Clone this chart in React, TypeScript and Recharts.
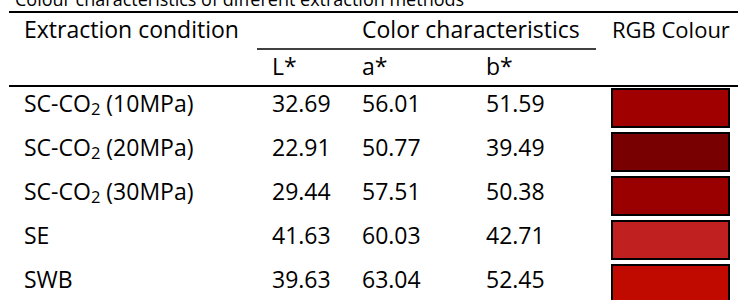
import { ComposedChart, Bar, Cell, XAxis, YAxis, Customized } from "recharts";

// table rows
const conditions = ["SC-CO2 (10MPa)", "SC-CO2 (20MPa)", "SC-CO2 (30MPa)", "SE", "SWB"];
const lValues = [32.69, 22.91, 29.44, 41.63, 39.63];
const aValues = [56.01, 50.77, 57.51, 60.03, 63.04];
const bValues = [51.59, 39.49, 50.38, 42.71, 52.45];
const rgbColours = ["#a00000", "#790000", "#9b0000", "#c02020", "#c00a00"];

// header labels
const title = "Colour characteristics of different extraction methods";
const headerTop = ["Extraction condition", "Color characteristics", "RGB Colour"];
const headerSub = ["L*", "a*", "b*"];

const FONT = "'Open Sans', sans-serif";
const FONT_SIZE = 23;
const COL_X = [24, 272, 362, 486, 612];

const rows = conditions.map((condition, i) => ({
  condition,
  L: lValues[i],
  a: aValues[i],
  b: bValues[i],
  colour: rgbColours[i],
}));

function ConditionText({ x, y, label }: { x: number; y: number; label: string }) {
  const idx = label.indexOf("CO2");
  if (idx < 0) {
    return (
      <text x={x} y={y} fontFamily={FONT} fontSize={FONT_SIZE} fill="#000">
        {label}
      </text>
    );
  }
  const before = label.slice(0, idx + 2);
  const after = label.slice(idx + 3);
  return (
    <text x={x} y={y} fontFamily={FONT} fontSize={FONT_SIZE} fill="#000">
      <tspan>{before}</tspan>
      <tspan fontSize={FONT_SIZE * 0.72} dy={3}>2</tspan>
      <tspan dy={-3}>{after}</tspan>
    </text>
  );
}

function RowTick(props: any) {
  const { y, payload } = props;
  const i = props.index ?? payload.index;
  const base = y + 4;
  const vals = [lValues[i], aValues[i], bValues[i]];
  return (
    <g>
      <ConditionText x={COL_X[0]} y={base} label={payload.value} />
      {vals.map((v, k) => (
        <text key={k} x={COL_X[k + 1]} y={base} fontFamily={FONT} fontSize={FONT_SIZE} fill="#000">
          {v.toFixed(2)}
        </text>
      ))}
    </g>
  );
}

function Header() {
  const txt = { fontFamily: FONT, fontSize: FONT_SIZE, fill: "#000" };
  return (
    <g>
      {/* title is cropped at the top edge, as in the source image */}
      <text x={15} y={6} fontFamily={FONT} fontSize={18} fill="#000">{title}</text>
      <line x1={9} x2={738} y1={12} y2={12} stroke="#000" strokeWidth={2} />
      <text x={COL_X[0]} y={38} {...txt}>{headerTop[0]}</text>
      <text x={COL_X[2]} y={38} {...txt}>{headerTop[1]}</text>
      <text x={COL_X[4]} y={38} {...txt} fontSize={22}>{headerTop[2]}</text>
      <line x1={257} x2={596} y1={49} y2={49} stroke="#000" strokeWidth={1.5} />
      {headerSub.map((h, k) => (
        <text key={h} x={COL_X[k + 1]} y={75} {...txt}>{h}</text>
      ))}
      <line x1={9} x2={738} y1={86} y2={86} stroke="#000" strokeWidth={2} />
    </g>
  );
}

export default function App() {
  return (
    <div style={{ position: "absolute", top: 0, left: 0, width: 738, height: 300, overflow: "hidden", background: "#fff" }}>
      <ComposedChart
        layout="vertical"
        width={738}
        height={306}
        data={rows}
        margin={{ top: 86, right: 9, bottom: 0, left: 0 }}
      >
        <XAxis type="number" domain={[0, 1]} hide />
        <YAxis
          type="category"
          dataKey="condition"
          width={612}
          axisLine={false}
          tickLine={false}
          interval={0}
          tick={<RowTick />}
        />
        <Bar dataKey={() => 1} barSize={38} stroke="#000" strokeWidth={2} isAnimationActive={false}>
          {rows.map((r) => (
            <Cell key={r.condition} fill={r.colour} />
          ))}
        </Bar>
        <Customized component={Header} />
      </ComposedChart>
    </div>
  );
}
